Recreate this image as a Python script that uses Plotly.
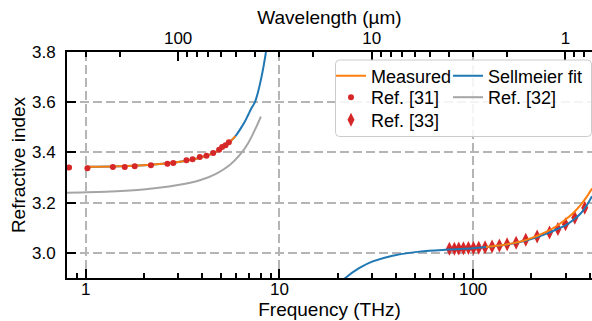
import math
import plotly.graph_objects as go

# Speed of light in µm·THz, used to place wavelength ticks on the frequency axis
C_UM_THZ = 299.792458

# Measured refractive index (THz region and near-IR region)
meas_thz_f = [1.0, 1.5, 2.0, 2.5, 3.0, 3.5, 4.0, 4.5, 5.0, 5.5, 5.93]
meas_thz_n = [3.343, 3.345, 3.349, 3.355, 3.362, 3.371, 3.382, 3.395, 3.414, 3.440, 3.465]
meas_nir_f = [116.7, 150, 190, 240, 270, 300, 330, 360, 385, 411]
meas_nir_n = [3.023, 3.034, 3.053, 3.085, 3.107, 3.133, 3.160, 3.192, 3.222, 3.256]

# Sellmeier fit curve
fit_low_f = [1.0, 1.5, 2.0, 2.5, 3.0, 3.5, 4.0, 4.5, 5.0, 5.5, 5.93, 6.3, 6.62, 6.9, 7.18,
             7.47, 7.7, 7.93, 8.1, 8.3, 8.52]
fit_low_n = [3.343, 3.345, 3.349, 3.355, 3.362, 3.371, 3.382, 3.395, 3.414, 3.440, 3.465,
             3.495, 3.522, 3.550, 3.577, 3.600, 3.632, 3.672, 3.705, 3.748, 3.800]
fit_high_f = [21.0, 21.9, 25.9, 30.3, 38.4, 52.8, 74, 100, 116.7, 150, 190, 240, 270, 300,
              330, 360, 385, 411]
fit_high_n = [2.885, 2.900, 2.940, 2.966, 2.989, 3.005, 3.013, 3.018, 3.023, 3.033, 3.050,
              3.077, 3.094, 3.110, 3.132, 3.158, 3.188, 3.226]

# Ref. [31]
ref31_f = [0.82, 1.02, 1.38, 1.59, 1.79, 2.17, 2.64, 2.83, 3.31, 3.56, 3.88, 4.20, 4.55,
           4.88, 5.06, 5.27, 5.48]
ref31_n = [3.340, 3.337, 3.342, 3.342, 3.345, 3.349, 3.355, 3.358, 3.369, 3.373, 3.382,
           3.387, 3.398, 3.411, 3.422, 3.429, 3.441]

# Ref. [32]
ref32_f = [0.78, 1.33, 1.98, 2.94, 3.88, 4.73, 5.54, 6.24, 6.89, 7.47, 8.02]
ref32_n = [3.239, 3.244, 3.252, 3.269, 3.289, 3.316, 3.350, 3.390, 3.437, 3.490, 3.543]

# Ref. [33]
ref33_f = [75.4, 80, 84.3, 89.1, 94.6, 100.4, 106.9, 115.3, 125.3, 136.7, 149.8, 166.7,
           187, 214, 248, 274, 300, 335, 377]
ref33_n = [3.016, 3.016, 3.017, 3.018, 3.019, 3.019, 3.020, 3.022, 3.025, 3.029, 3.034,
           3.040, 3.052, 3.065, 3.081, 3.095, 3.114, 3.140, 3.180]

# Axis ticks
freq_ticks = [1, 10, 100]
freq_minor = [0.9, 2, 3, 4, 5, 6, 7, 8, 9, 20, 30, 40, 50, 60, 70, 80, 90, 200, 300, 400]
wl_ticks = [100, 10, 1]
wl_minor = [300, 200, 90, 80, 70, 60, 50, 40, 30, 20, 9, 8, 7, 6, 5, 4, 3, 2, 0.9, 0.8]
n_ticks = [3.0, 3.2, 3.4, 3.6, 3.8]

X_RANGE = [0.8, 411.0]
Y_RANGE = [2.9, 3.8]

BLUE = "#1f77b4"
ORANGE = "#ff7f0e"
RED = "#d62728"
GRAY = "#a5a5a5"
FONT = "Liberation Sans, Arial, sans-serif"

fig = go.Figure()

# Ref. [32] (drawn on the top axis, which shares the frequency scale)
fig.add_trace(go.Scatter(x=ref32_f, y=ref32_n, mode="lines", name="Ref. [32]",
                         line=dict(color=GRAY, width=2, shape="spline"),
                         xaxis="x2", legend="legend5"))
# Ref. [33]
fig.add_trace(go.Scatter(x=ref33_f, y=ref33_n, mode="markers", name="Ref. [33]",
                         marker=dict(symbol="diamond-tall", size=10, color=RED),
                         legend="legend3"))
# Sellmeier fit
fig.add_trace(go.Scatter(x=fit_low_f, y=fit_low_n, mode="lines", name="Sellmeier fit",
                         line=dict(color=BLUE, width=2, shape="spline"),
                         legend="legend4", legendgroup="fit"))
fig.add_trace(go.Scatter(x=fit_high_f, y=fit_high_n, mode="lines", name="Sellmeier fit",
                         line=dict(color=BLUE, width=2, shape="spline"),
                         legend="legend4", legendgroup="fit", showlegend=False))
# Measured
fig.add_trace(go.Scatter(x=meas_thz_f, y=meas_thz_n, mode="lines", name="Measured",
                         line=dict(color=ORANGE, width=2, shape="spline"),
                         legend="legend", legendgroup="meas"))
fig.add_trace(go.Scatter(x=meas_nir_f, y=meas_nir_n, mode="lines", name="Measured",
                         line=dict(color=ORANGE, width=2, shape="spline"),
                         legend="legend", legendgroup="meas", showlegend=False))
# Ref. [31]
fig.add_trace(go.Scatter(x=ref31_f, y=ref31_n, mode="markers", name="Ref. [31]",
                         marker=dict(symbol="circle", size=6, color=RED),
                         legend="legend2"))

W, H = 592, 321
ML, MR, MT, MB = 67, 0, 52, 43
PW, PH = W - ML - MR, H - MT - MB


def px_to_paper(px, py):
    return (px - ML) / PW, (H - MB - py) / PH


# Shared rounded legend frame
bx0, by0 = px_to_paper(335.5, 136.5)
bx1, by1 = px_to_paper(591.5, 60)
rx, ry = 4 / PW, 4 / PH
frame = (f"M {bx0 + rx},{by0} L {bx1 - rx},{by0} Q {bx1},{by0} {bx1},{by0 + ry} "
         f"L {bx1},{by1 - ry} Q {bx1},{by1} {bx1 - rx},{by1} "
         f"L {bx0 + rx},{by1} Q {bx0},{by1} {bx0},{by1 - ry} "
         f"L {bx0},{by0 + ry} Q {bx0},{by0} {bx0 + rx},{by0} Z")
fig.add_shape(type="path", path=frame, xref="paper", yref="paper", layer="above",
              fillcolor="rgba(255,255,255,0.85)", line=dict(color="#cccccc", width=1))

axis_common = dict(showline=True, linecolor="black", linewidth=2, ticks="inside",
                   ticklen=9, tickwidth=1.5, tickcolor="black", automargin=False,
                   tickfont=dict(size=17, color="black", family=FONT), zeroline=False)
grid = dict(showgrid=True, gridcolor="#b5b5b5", gridwidth=1.5, griddash="9px,4px")


def legend_at(px, py):
    x, y = px_to_paper(px, py)
    return dict(x=x, y=y, xanchor="left", yanchor="middle", bgcolor="rgba(0,0,0,0)",
                borderwidth=0, font=dict(size=18, color="black", family=FONT))


# Two legend columns, one legend per row so that rows sit evenly
COL1, COL2 = 331, 448
ROWS = [76, 97.5, 120]

fig.update_layout(
    width=W, height=H, autosize=False,
    margin=dict(l=ML, r=MR, t=MT, b=MB, pad=0),
    paper_bgcolor="white", plot_bgcolor="white",
    font=dict(family=FONT, color="black"),
    xaxis=dict(type="log", range=[math.log10(v) for v in X_RANGE],
               tickvals=freq_ticks, ticktext=[str(v) for v in freq_ticks],
               minor=dict(tickvals=freq_minor, ticks="inside", ticklen=5, tickwidth=1.5,
                          tickcolor="black", showgrid=False),
               title=dict(text="Frequency (THz)", font=dict(size=19), standoff=4),
               ticklabelstandoff=-5,
               **axis_common, **grid),
    xaxis2=dict(type="log", overlaying="x", side="top", anchor="y",
                range=[math.log10(v) for v in X_RANGE],
                tickvals=[C_UM_THZ / w for w in wl_ticks],
                ticktext=[str(w) for w in wl_ticks],
                minor=dict(tickvals=[C_UM_THZ / w for w in wl_minor], ticks="inside",
                           ticklen=5, tickwidth=1.5, tickcolor="black", showgrid=False),
                title=dict(text="Wavelength (µm)", font=dict(size=19), standoff=0),
                ticklabelstandoff=-1, showgrid=False,
                **axis_common),
    yaxis=dict(range=Y_RANGE, tickvals=n_ticks, tickformat=".1f",
               title=dict(text="Refractive index", font=dict(size=19), standoff=1),
               ticklabelstandoff=6,
               **axis_common, **grid),
    legend=legend_at(COL1, ROWS[0]),
    legend2=legend_at(COL1, ROWS[1]),
    legend3=legend_at(COL1, ROWS[2]),
    legend4=legend_at(COL2, ROWS[0]),
    legend5=legend_at(COL2, ROWS[1]),
)

fig.write_html("out.html")
